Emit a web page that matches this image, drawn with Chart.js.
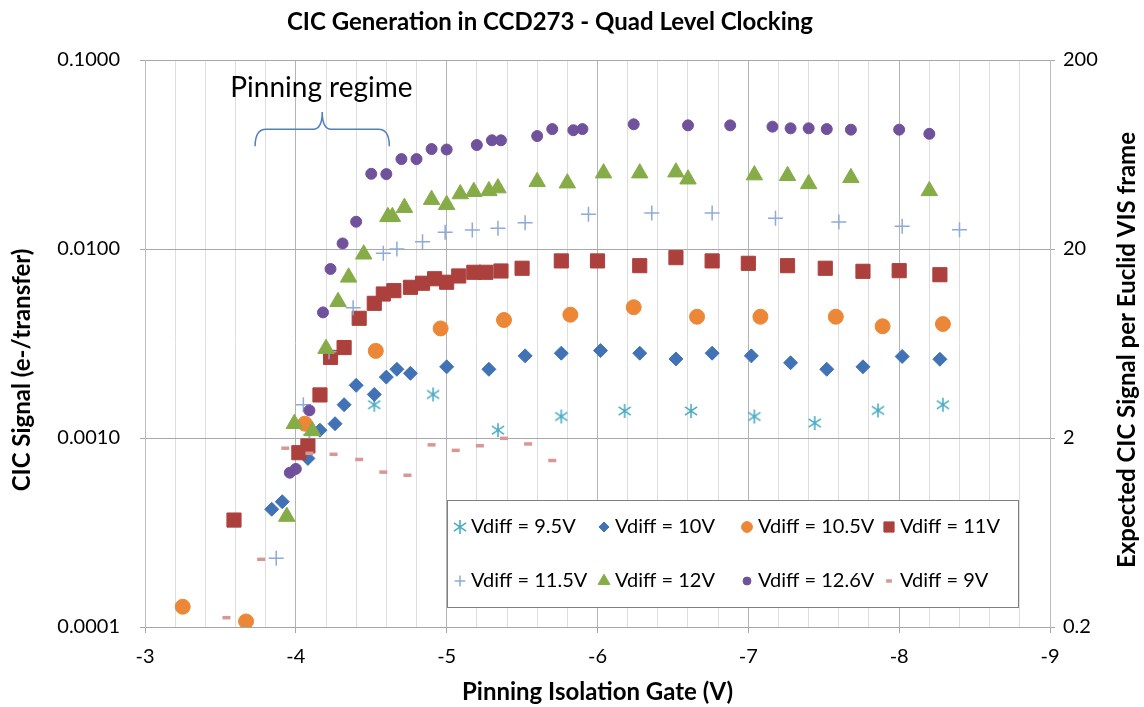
<!DOCTYPE html>
<html lang="en">
<head>
<meta charset="UTF-8">
<title>CIC Generation in CCD273 - Quad Level Clocking</title>
<script src="https://cdn.jsdelivr.net/npm/chart.js"></script>
<style>
  html, body { margin: 0; padding: 0; background: #fff; }
</style>
</head>
<body>
<canvas id="cicChart" width="1144" height="707"></canvas>

<script>
// ---- data (gate voltage in V, CIC in e-/transfer) ----
const vd95Gate = [-4.09, -4.52, -4.91, -5.34, -5.76, -6.18, -6.62, -7.04, -7.44, -7.86, -8.29];
const vd95Cic  = [0.00109, 0.0015, 0.0017, 0.0011, 0.0013, 0.00139, 0.00139, 0.0013, 0.0012, 0.0014, 0.0015];

const vd10Gate = [-3.84, -3.91, -4.08, -4.16, -4.26, -4.32, -4.40, -4.52, -4.60, -4.67, -4.76, -5.00, -5.28,
                  -5.52, -5.76, -6.02, -6.28, -6.52, -6.76, -7.02, -7.28, -7.52, -7.76, -8.02, -8.27];
const vd10Cic  = [0.00042, 0.00046, 0.00078, 0.0011, 0.00119, 0.0015, 0.0019, 0.0017, 0.0021, 0.00231, 0.0022, 0.00238, 0.00231,
                  0.00272, 0.00281, 0.0029, 0.00281, 0.00262, 0.00281, 0.00272, 0.0025, 0.00231, 0.00238, 0.0027, 0.00261];

const vd105Gate = [-3.25, -3.67, -4.06, -4.53, -4.96, -5.38, -5.82, -6.24, -6.66, -7.08, -7.58, -7.89, -8.29];
const vd105Cic  = [0.000128, 0.000107, 0.00119, 0.00289, 0.0038, 0.00421, 0.00449, 0.00492, 0.00438, 0.00438, 0.00438, 0.0039, 0.00401];

const vd11Gate = [-3.59, -4.02, -4.08, -4.16, -4.23, -4.32, -4.42, -4.52, -4.58, -4.65, -4.76, -4.84, -4.92, -5.00, -5.08,
                  -5.18, -5.26, -5.36, -5.50, -5.76, -6.00, -6.28, -6.52, -6.76, -7.00, -7.26, -7.51, -7.76, -8.00, -8.27];
const vd11Cic  = [0.000368, 0.000836, 0.000908, 0.00169, 0.00267, 0.00301, 0.0043, 0.00516, 0.00578, 0.00602, 0.00627, 0.00659, 0.00696, 0.00667, 0.0072,
                  0.00753, 0.00753, 0.00765, 0.00791, 0.00865, 0.00865, 0.00816, 0.0090, 0.00865, 0.0084, 0.00816, 0.00791, 0.00762, 0.00768, 0.00731];

const vd115Gate = [-3.87, -4.05, -4.22, -4.38, -4.58, -4.67, -4.84, -4.99, -5.17, -5.34, -5.52, -5.94, -6.36, -6.76, -7.18, -7.60, -8.02, -8.40];
const vd115Cic  = [0.000231, 0.0015, 0.00286, 0.00489, 0.00949, 0.0100, 0.01093, 0.01226, 0.01261, 0.01288, 0.01378, 0.01527, 0.0155, 0.0155, 0.01454, 0.0139, 0.01318, 0.01265];

const vd12Gate = [-3.94, -3.99, -4.11, -4.20, -4.28, -4.35, -4.45, -4.61, -4.64, -4.72, -4.90, -5.00, -5.09, -5.18,
                  -5.28, -5.34, -5.60, -5.80, -6.04, -6.28, -6.52, -6.60, -7.04, -7.26, -7.40, -7.68, -8.20];
const vd12Cic  = [0.000384, 0.00119, 0.00109, 0.00297, 0.00526, 0.00708, 0.00938, 0.0148, 0.0148, 0.01655, 0.01824, 0.01716, 0.01954, 0.0201,
                  0.0203, 0.021, 0.0227, 0.0223, 0.0252, 0.0252, 0.0255, 0.0234, 0.0246, 0.0244, 0.0221, 0.0238, 0.0203];

const vd126Gate = [-3.96, -4.00, -4.09, -4.18, -4.23, -4.31, -4.40, -4.50, -4.60, -4.70, -4.80, -4.90, -5.00, -5.20, -5.30,
                   -5.36, -5.60, -5.70, -5.84, -5.90, -6.24, -6.60, -6.88, -7.16, -7.28, -7.40, -7.52, -7.68, -8.00, -8.20];
const vd126Cic  = [0.000655, 0.000686, 0.0014, 0.00462, 0.00784, 0.0107, 0.01394, 0.025, 0.0249, 0.0299, 0.0299, 0.0338, 0.0336, 0.0355, 0.0376,
                   0.0376, 0.0396, 0.0431, 0.0425, 0.0431, 0.0457, 0.0451, 0.0451, 0.0444, 0.0435, 0.0435, 0.0431, 0.0428, 0.0428, 0.0407];

const vd9Gate = [-3.54, -3.77, -3.93, -4.09, -4.25, -4.42, -4.58, -4.74, -4.90, -5.06, -5.22, -5.38, -5.54, -5.70];
const vd9Cic  = [0.000112, 0.000228, 0.000883, 0.00083, 0.00082, 0.00077, 0.00066, 0.000635, 0.00092, 0.00086, 0.00091, 0.000996, 0.00093, 0.00076];

const seriesNames = ['Vdiff = 9.5V', 'Vdiff = 10V', 'Vdiff = 10.5V', 'Vdiff = 11V',
                     'Vdiff = 11.5V', 'Vdiff = 12V', 'Vdiff = 12.6V', 'Vdiff = 9V'];

// axis ticks
const gateTicks = [-3, -4, -5, -6, -7, -8, -9];
const cicTicks = [0.0001, 0.001, 0.01, 0.1];
const frameTicks = [0.2, 2, 20, 200];   // per Euclid VIS frame (x2000)

const chartTitle = 'CIC Generation in CCD273 - Quad Level Clocking';
const xTitle = 'Pinning Isolation Gate (V)';
const yTitle = 'CIC Signal (e-/transfer)';
const y2Title = 'Expected CIC Signal per Euclid VIS frame';

// "Pinning regime" note + brace, in data units
const regime = { text: 'Pinning regime', gate: -4.17, cic: 0.071,
                 from: -3.73, to: -4.62, tip: -4.175, tipCic: 0.053, midCic: 0.043, endCic: 0.035 };

// 6-arm asterisk marker used by Excel for the 9.5V series
function asterisk(size, color) {
    const c = document.createElement('canvas');
    c.width = size; c.height = size;
    const g = c.getContext('2d');
    const m = size / 2, r = size / 2 - 1;
    g.strokeStyle = color;
    g.lineWidth = 1.6;
    g.beginPath();
    g.moveTo(m, m - r); g.lineTo(m, m + r);
    g.moveTo(m - r * 0.87, m - r * 0.6); g.lineTo(m + r * 0.87, m + r * 0.6);
    g.moveTo(m - r * 0.87, m + r * 0.6); g.lineTo(m + r * 0.87, m - r * 0.6);
    g.stroke();
    return c;
}

const styles = [
    { color: '#4bacc6', pointStyle: asterisk(16, '#4bacc6'), radius: 8, border: 1 },
    { color: '#4072b5', pointStyle: 'rectRot', radius: 7, border: 1 },
    { color: '#ec8737', pointStyle: 'circle', radius: 7.5, border: 1 },
    { color: '#ac403d', pointStyle: 'rect', radius: 10, border: 1 },
    { color: '#8eaad8', pointStyle: 'cross', radius: 7.5, border: 1.5 },
    { color: '#86ac48', pointStyle: 'triangle', radius: 9.5, border: 1 },
    { color: '#70519c', pointStyle: 'circle', radius: 5.5, border: 1 },
    { color: '#d99694', pointStyle: 'line', radius: 4, border: 3.5 }
];

const gates = [vd95Gate, vd10Gate, vd105Gate, vd11Gate, vd115Gate, vd12Gate, vd126Gate, vd9Gate];
const cics = [vd95Cic, vd10Cic, vd105Cic, vd11Cic, vd115Cic, vd12Cic, vd126Cic, vd9Cic];

const datasets = seriesNames.map((name, i) => ({
    label: name,
    data: gates[i].map((g, k) => ({ x: g, y: cics[i][k] })),
    pointStyle: styles[i].pointStyle,
    pointRadius: styles[i].radius,
    pointHoverRadius: styles[i].radius,
    backgroundColor: styles[i].color,
    borderColor: styles[i].color,
    borderWidth: styles[i].border,
    showLine: false,
    order: seriesNames.length - i   // later series on top, like Excel
}));

const isWhole = v => Math.abs(v - Math.round(v)) < 1e-6;

const decor = {
    id: 'decor',
    afterDatasetsDraw(chart) {
        const { ctx, scales } = chart;
        const xs = scales.x, ys = scales.y;
        ctx.save();

        // pinning regime text + brace
        ctx.fillStyle = '#000';
        ctx.textAlign = 'center';
        ctx.textBaseline = 'middle';
        ctx.font = '28px Lato';
        ctx.fillText(regime.text, xs.getPixelForValue(regime.gate), ys.getPixelForValue(regime.cic));

        const x1 = xs.getPixelForValue(regime.from), x2 = xs.getPixelForValue(regime.to);
        const xm = xs.getPixelForValue(regime.tip);
        const yEnd = ys.getPixelForValue(regime.endCic), yMid = ys.getPixelForValue(regime.midCic);
        const yTip = ys.getPixelForValue(regime.tipCic);
        const r = 11, rt = 9;
        ctx.strokeStyle = '#4f81bd';
        ctx.lineWidth = 1.5;
        ctx.beginPath();
        ctx.moveTo(x1, yEnd);
        ctx.quadraticCurveTo(x1, yMid, x1 + r, yMid);
        ctx.lineTo(xm - rt, yMid);
        ctx.quadraticCurveTo(xm, yMid, xm, yTip);
        ctx.quadraticCurveTo(xm, yMid, xm + rt, yMid);
        ctx.lineTo(x2 - r, yMid);
        ctx.quadraticCurveTo(x2, yMid, x2, yEnd);
        ctx.stroke();

        // legend box
        const lx = 447, ly = 500, lw = 571, lh = 107;
        ctx.fillStyle = '#fff';
        ctx.fillRect(lx, ly, lw, lh);
        ctx.strokeStyle = '#7f7f7f';
        ctx.lineWidth = 1;
        ctx.strokeRect(lx + 0.5, ly + 0.5, lw, lh);
        const colX = [460, 604, 747, 889], rowY = [527, 581];
        ctx.font = '20px Lato';
        ctx.textAlign = 'left';
        chart.data.datasets.forEach((ds, i) => {
            const px = colX[i % 4], py = rowY[Math.floor(i / 4)];
            ctx.fillStyle = ds.backgroundColor;
            ctx.strokeStyle = ds.borderColor;
            ctx.lineWidth = ds.borderWidth;
            const legR = typeof ds.pointStyle === 'string' ? ds.pointRadius * 0.72 : ds.pointRadius;
            Chart.helpers.drawPoint(ctx, { pointStyle: ds.pointStyle, radius: legR, rotation: 0, borderWidth: ds.borderWidth }, px, py);
            ctx.fillStyle = '#000';
            ctx.fillText(ds.label, px + 11, py);
        });
        ctx.restore();
    },
    afterDraw(chart) {
        const { ctx, chartArea: area } = chart;
        ctx.save();
        ctx.fillStyle = '#000';
        ctx.textAlign = 'center';
        ctx.textBaseline = 'middle';
        ctx.font = 'bold 24px Lato';
        ctx.fillText(chartTitle, 550, 22);
        ctx.fillText(xTitle, (area.left + area.right) / 2, 692);

        ctx.translate(22, 370);
        ctx.rotate(-Math.PI / 2);
        ctx.fillText(yTitle, 0, 0);
        ctx.rotate(Math.PI / 2);
        ctx.translate(-22, -370);

        ctx.translate(1127, 350);
        ctx.rotate(-Math.PI / 2);
        ctx.fillText(y2Title, 0, 0);
        ctx.restore();
    }
};

new Chart(document.getElementById('cicChart'), {
    type: 'scatter',
    data: { datasets: datasets },
    plugins: [decor],
    options: {
        responsive: false,
        animation: false,
        layout: { padding: { top: 60, left: 0, right: 0, bottom: 0 } },
        plugins: {
            legend: { display: false },
            title: { display: false },
            tooltip: { enabled: false }
        },
        scales: {
            x: {
                type: 'linear',
                min: -9,
                max: -3,
                reverse: true,
                afterFit: s => { s.height = 80; },
                ticks: {
                    stepSize: 0.2,
                    autoSkip: false,
                    maxRotation: 0,
                    padding: 12,
                    color: '#000',
                    font: { family: 'Lato', size: 20 },
                    callback: v => (isWhole(v) && gateTicks.includes(Math.round(v))) ? String(Math.round(v)) : ''
                },
                grid: {
                    color: c => isWhole(c.tick.value) ? '#b4b4b4' : '#dedede',
                    tickColor: c => isWhole(c.tick.value) ? '#a6a6a6' : 'rgba(0,0,0,0)',
                    tickLength: 6
                },
                border: { color: '#a6a6a6', width: 1 }
            },
            y: {
                type: 'logarithmic',
                position: 'left',
                min: 0.0001,
                max: 0.1,
                afterFit: s => { s.width = 145; },
                afterBuildTicks: s => { s.ticks = cicTicks.map(v => ({ value: v })); },
                ticks: {
                    padding: 20,
                    color: '#000',
                    font: { family: 'Lato', size: 20 },
                    callback: v => Number(v).toFixed(4)
                },
                grid: { color: '#a8a8a8', tickColor: '#a8a8a8', tickLength: 5 },
                border: { color: '#bcbcbc', width: 1 }
            },
            y2: {
                type: 'logarithmic',
                position: 'right',
                min: 0.2,
                max: 200,
                afterFit: s => { s.width = 94; },
                afterBuildTicks: s => { s.ticks = frameTicks.map(v => ({ value: v })); },
                ticks: {
                    padding: 8,
                    color: '#000',
                    font: { family: 'Lato', size: 20 },
                    callback: v => String(v)
                },
                grid: { drawOnChartArea: false, tickColor: '#a8a8a8', tickLength: 5 },
                border: { color: '#bcbcbc', width: 1 }
            }
        }
    }
});
</script>
</body>
</html>
